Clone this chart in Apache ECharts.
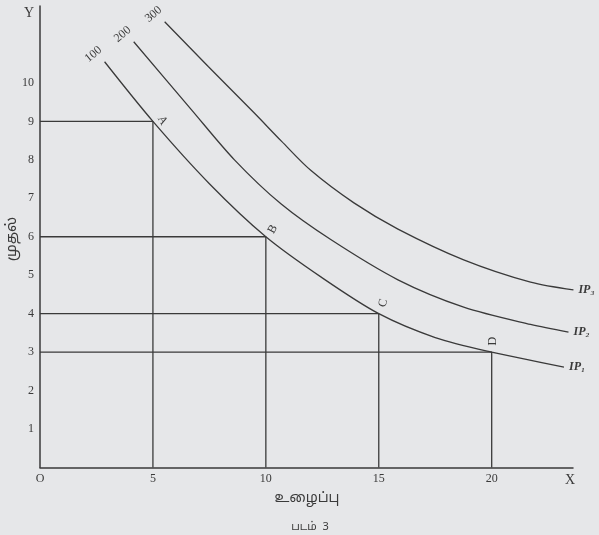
<!DOCTYPE html>
<html>
<head>
<meta charset="utf-8">
<script src="https://cdn.jsdelivr.net/npm/echarts@6/dist/echarts.min.js"></script>
<style>
html,body{margin:0;padding:0;background:#e6e7e9;}
#c{width:599px;height:535px;}
</style>
</head>
<body>
<div id="c"></div>
<script>
// Isoproduct curves (labour on X, capital on Y)
const curveNames = ['100', '200', '300'];
const curveEndNames = ['IP\u2081', 'IP\u2082', 'IP\u2083'];
const ip1X = [2.86, 5, 7.5, 10, 12.5, 15, 17.5, 20, 23.2];
const ip1Y = [10.55, 9, 7.38, 6, 4.93, 4, 3.38, 3, 2.61];
const ip2X = [4.15, 6.71, 8.61, 10.68, 12.89, 15.85, 18.76, 21.72, 23.4];
const ip2Y = [11.07, 9.30, 8.0, 6.85, 5.92, 4.88, 4.17, 3.72, 3.52];
const ip3X = [5.52, 7.46, 9.5, 10.7, 12, 13.9, 15.85, 18.76, 21.72, 23.62];
const ip3Y = [11.59, 10.42, 9.21, 8.48, 7.72, 6.88, 6.20, 5.40, 4.82, 4.62];
// combination points on IP1
const pointNames = ['A', 'B', 'C', 'D'];
const pointX = [5, 10, 15, 20];
const pointY = [9, 6, 4, 3];
// tick labels
const xTicks = [0, 5, 10, 15, 20];
const yTicks = [1, 2, 3, 4, 5, 6, 7, 8, 9, 10];

const ink = '#3a3a3a';
const serif = '"Liberation Serif", "DejaVu Serif", serif';
const tamil = '"Noto Sans Tamil", "Noto Serif Tamil", "Lohit Tamil", sans-serif';

const curves = [[ip1X, ip1Y], [ip2X, ip2Y], [ip3X, ip3Y]];
const pointLabelStyle = [
  {position: 'right', rotate: -60, offset: [-3, -4.4]},
  {position: 'top', rotate: 60, offset: [5.6, 10.7]},
  {position: 'top', rotate: 75, offset: [6.6, 8.9]},
  {position: 'top', rotate: 90, offset: [6, 7]}
];

const series = [];
curves.forEach(function (c, i) {
  const data = c[0].map(function (x, k) { return [x, c[1][k]]; });
  data[0] = {
    value: data[0],
    label: {show: true, formatter: curveNames[i], position: 'top', rotate: 40,
      offset: [-7, -3], color: ink, fontFamily: serif, fontSize: 12}
  };
  series.push({
    type: 'line', data: data, smooth: 0.3,
    showSymbol: true, showAllSymbol: true, symbol: 'circle', symbolSize: 0,
    itemStyle: {color: 'rgba(0,0,0,0)'},
    label: {show: false},
    lineStyle: {color: ink, width: 1.3}, silent: true, z: 3,
    endLabel: {show: true, formatter: curveEndNames[i], color: ink, fontFamily: serif,
      fontSize: 12, fontWeight: 'bold', fontStyle: 'italic', distance: 5}
  });
});
pointX.forEach(function (x, i) {
  const y = pointY[i];
  series.push({
    type: 'line', showSymbol: true, showAllSymbol: true, symbol: 'circle', symbolSize: 0,
    itemStyle: {color: 'rgba(0,0,0,0)'}, label: {show: false},
    silent: true, z: 2,
    lineStyle: {color: ink, width: 1.3},
    data: [[0, y], {value: [x, y], label: Object.assign({show: true, formatter: pointNames[i],
      color: ink, fontFamily: serif, fontSize: 12}, pointLabelStyle[i])}, [x, 0]]
  });
});

const chart = echarts.init(document.getElementById('c'));
chart.setOption({
  backgroundColor: '#e6e7e9',
  animation: false,
  grid: {left: 40, right: 26, top: 6, bottom: 67.5},
  xAxis: {
    type: 'value', min: 0, max: 23.6, interval: 5,
    splitLine: {show: false},
    axisTick: {show: false},
    axisLine: {lineStyle: {color: ink, width: 1.5}},
    axisLabel: {
      color: ink, fontFamily: serif, fontSize: 12, margin: 5,
      customValues: xTicks,
      formatter: function (v) { return v === 0 ? 'O' : String(v); }
    },
    name: 'X', nameLocation: 'end', nameGap: -3,
    nameTextStyle: {color: ink, fontFamily: serif, fontSize: 14, verticalAlign: 'top', align: 'center', padding: [6, 0, 0, 0]}
  },
  yAxis: {
    type: 'value', min: 0, max: 12, interval: 1,
    splitLine: {show: false},
    axisTick: {show: false},
    axisLine: {lineStyle: {color: ink, width: 1.5}},
    axisLabel: {
      color: ink, fontFamily: serif, fontSize: 12, margin: 6,
      customValues: yTicks
    }
  },
  graphic: [
    {type: 'text', left: 24, top: 6, style: {text: 'Y', fill: ink, font: '14px ' + serif}},
    {type: 'text', x: 13, y: 239, rotation: Math.PI / 2, style: {text: 'முதல்', fill: ink, font: '15px ' + tamil, align: 'center', verticalAlign: 'middle'}},
    {type: 'text', x: 307, y: 499, style: {text: 'உழைப்பு', fill: ink, font: '14px ' + tamil, align: 'center', verticalAlign: 'middle'}},
    {type: 'text', x: 310, y: 528, style: {text: 'படம்  3', fill: ink, font: '11px ' + tamil, align: 'center', verticalAlign: 'middle'}}
  ],
  series: series
});
</script>
</body>
</html>
